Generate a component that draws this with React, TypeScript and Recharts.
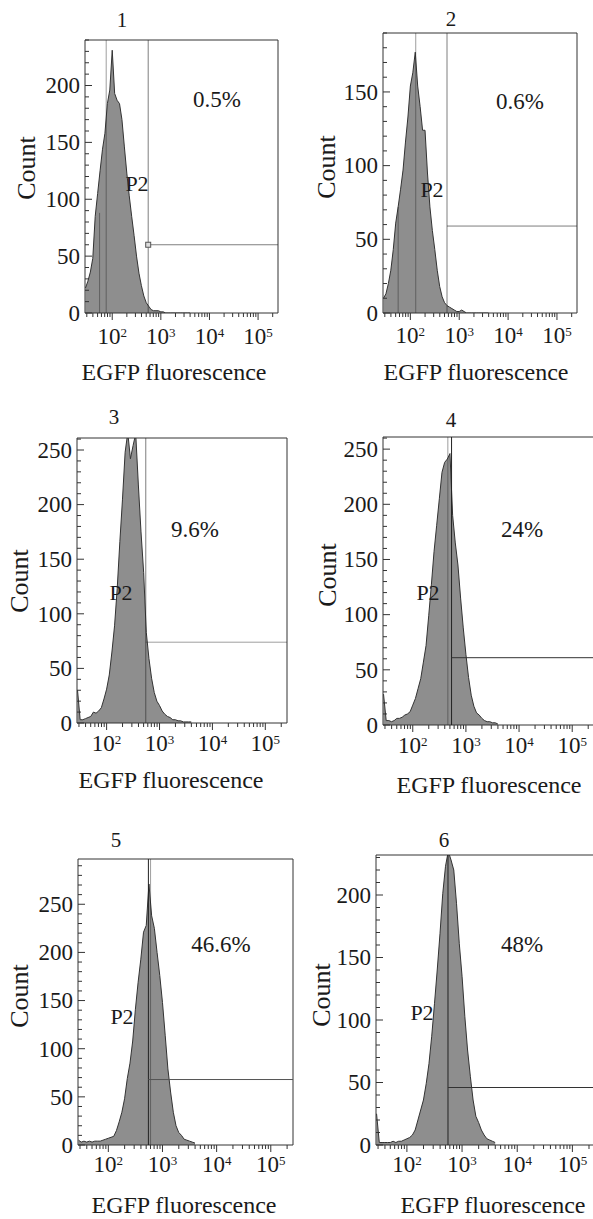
import { AreaChart, Area, XAxis, YAxis, ReferenceLine, ReferenceArea, ReferenceDot } from 'recharts'

// log10 of EGFP fluorescence for each histogram bin
const bins = [1.45, 1.5, 1.55, 1.6, 1.65, 1.7, 1.75, 1.8, 1.85, 1.9, 1.95, 2.0, 2.05, 2.1, 2.15, 2.2, 2.25, 2.3, 2.35, 2.4, 2.45, 2.5, 2.55, 2.6, 2.65, 2.7, 2.75, 2.8, 2.85, 2.9, 2.95, 3.0, 3.05, 3.1, 3.15, 3.2, 3.25, 3.3, 3.35, 3.4, 3.45, 3.5, 3.55, 3.6]

// cell counts per bin, one array per sample
const counts1 = [22, 28, 36, 48, 85, 105, 125, 144, 158, 184, 196, 231, 193, 187, 184, 170, 146, 123, 103, 85, 68, 50, 35, 24, 15, 9, 6, 3, 2, 2, 2, 1, 1, 0, 0, 0, 0, 0, 0, 0, 0, 0, 0, 0]
const counts2 = [10, 13, 20, 29, 43, 61, 72, 84, 97, 116, 133, 154, 163, 177, 154, 140, 124, 124, 95, 72, 56, 43, 29, 18, 11, 7, 5, 4, 3, 2, 1, 1, 2, 1, 0, 0, 0, 0, 0, 0, 0, 0, 0, 0]
const counts3 = [30, 3, 3, 4, 5, 6, 10, 9, 11, 14, 22, 31, 44, 65, 89, 123, 166, 205, 248, 266, 242, 254, 265, 218, 175, 138, 83, 59, 41, 28, 20, 16, 11, 8, 6, 5, 3, 3, 2, 2, 1, 1, 1, 1]
const counts4 = [28, 4, 4, 3, 4, 6, 6, 7, 9, 10, 12, 18, 24, 33, 42, 57, 72, 99, 127, 157, 181, 205, 229, 238, 241, 246, 190, 165, 145, 115, 88, 64, 43, 27, 17, 11, 9, 6, 4, 3, 3, 2, 2, 1]
const counts5 = [5, 3, 4, 3, 4, 3, 4, 4, 4, 5, 6, 7, 8, 9, 15, 24, 34, 48, 69, 85, 108, 141, 169, 193, 221, 228, 271, 238, 225, 200, 176, 148, 114, 79, 55, 34, 20, 13, 10, 6, 5, 4, 3, 2]
const counts6 = [25, 2, 2, 2, 2, 2, 3, 2, 3, 3, 4, 5, 6, 8, 12, 20, 28, 36, 49, 65, 87, 113, 140, 169, 201, 223, 235, 228, 220, 193, 161, 135, 103, 76, 55, 36, 23, 18, 12, 8, 5, 4, 3, 2]

const samples = ['1', '2', '3', '4', '5', '6']
const positivePct = ['0.5%', '0.6%', '9.6%', '24%', '46.6%', '48%']
const yMax = [240, 190, 261, 261, 297, 232]
const gateX = [2.74, 2.75, 2.74, 2.73, 2.74, 2.745]
const gateY = [60, 59, 74, 61, 68, 46]
const xMajor = [2, 3, 4, 5]
const xDomain = [1.44, 5.41]

// extra gate boundaries drawn by the cytometer software
const extraLines = [
  [{ x: 1.876, y0: 0, y1: 240 }, { x: 1.74, y0: 0, y1: 88 }],
  [{ x: 2.11, y0: 0, y1: 190 }, { x: 1.75, y0: 0, y1: 72 }],
  [],
  [{ x: 2.66, y0: 0, y1: 261 }],
  [{ x: 2.78, y0: 0, y1: 297 }],
  [],
]

const allCounts = [counts1, counts2, counts3, counts4, counts5, counts6]

// page layout (pixels)
const layouts = [
  { chart: [0, 0, 300, 400], box: [85, 278, 40, 313], off: 23, title: [122, 20], pct: [217, 100], p2: [137, 184], count: [27, 168], egfp: [174, 373], dark: false },
  { chart: [300, 0, 300, 400], box: [383, 577, 33, 313], off: 22, title: [451, 19], pct: [520, 102], p2: [432, 190], count: [327, 167], egfp: [476, 373], dark: false },
  { chart: [0, 400, 300, 420], box: [77, 287, 438, 723], off: 20, title: [114, 417], pct: [195, 530], p2: [121, 593], count: [20, 581], egfp: [171, 781], dark: false },
  { chart: [300, 400, 300, 420], box: [383, 594, 437, 725], off: 20, title: [451, 420], pct: [522, 530], p2: [428, 593], count: [328, 575], egfp: [489, 786], dark: true },
  { chart: [0, 820, 300, 399], box: [78, 293, 859, 1145], off: 19.5, title: [116, 840], pct: [221, 945], p2: [122, 1017], count: [20, 996], egfp: [184, 1206], dark: true },
  { chart: [300, 820, 300, 399], box: [376, 595, 855, 1145], off: 19.5, title: [444, 840], pct: [522, 945], p2: [422, 1013], count: [322, 995], egfp: [493, 1206], dark: true },
]

const FONT = '"Liberation Serif", "Times New Roman", serif'
const INK = '#1a1a1a'

const xTicks: number[] = []
for (let d = 1; d <= 5; d++) {
  for (let k = 1; k <= 9; k++) {
    const v = d + Math.log10(k)
    if (v >= xDomain[0] && v <= xDomain[1]) xTicks.push(v)
  }
}

const isMajor = (v: number) => xMajor.some(m => Math.abs(m - v) < 1e-6)

function XTick(props: any) {
  const { x, y, payload, off } = props
  const v = payload.value
  const major = isMajor(v)
  return (
    <g>
      <line x1={x} x2={x} y1={y} y2={y + (major ? 7 : 4)} stroke="#333" strokeWidth={1} />
      {major && (
        <text x={x} y={y + off} dy="0.34em" textAnchor="middle" fontFamily={FONT} fontSize={23} fill={INK}>
          <tspan>10</tspan>
          <tspan fontSize={13} dy={-7}>{Math.round(v)}</tspan>
        </text>
      )}
    </g>
  )
}

function YTick(props: any) {
  const { x, y, payload } = props
  const v = payload.value
  const major = v % 50 === 0
  return (
    <g>
      <line x1={x} x2={x + (major ? 7 : 4)} y1={y} y2={y} stroke="#333" strokeWidth={1} />
      {major && (
        <text x={x - 5} y={y} dy="0.34em" textAnchor="end" fontFamily={FONT} fontSize={23} fill={INK}>
          {v}
        </text>
      )}
    </g>
  )
}

function Txt({ at, size, rotate, children }: any) {
  return (
    <div
      style={{
        position: 'absolute',
        left: at[0],
        top: at[1],
        transform: `translate(-50%, -50%)${rotate ? ' rotate(-90deg)' : ''}`,
        fontFamily: FONT,
        fontSize: size,
        lineHeight: 0.9,
        whiteSpace: 'nowrap',
        color: INK,
      }}
    >
      {children}
    </div>
  )
}

function Panel({ i }: { i: number }) {
  const lay = layouts[i]
  const [cl, ct, cw, ch] = lay.chart
  const [L, R, T, B] = lay.box
  const data = bins.map((b, j) => ({ x: b, count: allCounts[i][j] }))
  const yTicks: number[] = []
  for (let v = 0; v <= yMax[i]; v += 10) yTicks.push(v)
  const gateColor = lay.dark ? '#222' : 'rgba(40,40,40,0.6)'
  const hColor = lay.dark ? (i === 4 ? '#555' : '#333') : i === 2 ? 'rgba(40,40,40,0.45)' : 'rgba(40,40,40,0.6)'

  return (
    <div style={{ position: 'absolute', left: cl, top: ct }}>
      <AreaChart
        width={cw}
        height={ch}
        data={data}
        margin={{ top: T - ct, right: cl + cw - R, left: L - cl - 40, bottom: ct + ch - B - 30 }}
      >
        <XAxis
          dataKey="x"
          type="number"
          domain={xDomain}
          allowDataOverflow
          ticks={xTicks}
          interval={0}
          tickSize={0}
          tickMargin={0}
          tickLine={false}
          axisLine={false}
          height={30}
          tick={(p: any) => <XTick {...p} off={lay.off} />}
        />
        <YAxis
          type="number"
          domain={[0, yMax[i]]}
          allowDataOverflow
          ticks={yTicks}
          interval={0}
          tickSize={0}
          tickMargin={0}
          tickLine={false}
          axisLine={false}
          width={40}
          tick={(p: any) => <YTick {...p} />}
        />
        <Area
          type="linear"
          dataKey="count"
          stroke="#333"
          strokeWidth={1}
          fill="#8e8e8e"
          fillOpacity={1}
          dot={false}
          activeDot={false}
          isAnimationActive={false}
        />
        {extraLines[i].map((l, k) => (
          <ReferenceLine
            key={k}
            segment={[{ x: l.x, y: l.y0 }, { x: l.x, y: l.y1 }]}
            stroke="rgba(40,40,40,0.45)"
            strokeWidth={1}
          />
        ))}
        <ReferenceLine x={gateX[i]} stroke={gateColor} strokeWidth={1} />
        <ReferenceLine
          segment={[{ x: gateX[i], y: gateY[i] }, { x: xDomain[1], y: gateY[i] }]}
          stroke={hColor}
          strokeWidth={1}
        />
        {i === 0 && (
          <ReferenceDot
            x={gateX[i]}
            y={gateY[i]}
            r={3}
            shape={(p: any) => (
              <rect x={p.cx - 2.5} y={p.cy - 2.5} width={5} height={5} fill="#ddd" stroke="#555" strokeWidth={1} />
            )}
          />
        )}
        <ReferenceArea
          x1={xDomain[0]}
          x2={xDomain[1]}
          y1={0}
          y2={yMax[i]}
          fill="none"
          fillOpacity={0}
          stroke="#333"
          strokeWidth={1}
        />
      </AreaChart>
    </div>
  )
}

export default function App() {
  return (
    <div style={{ position: 'absolute', left: 0, top: 0, width: 593, height: 1219, overflow: 'hidden', background: '#fff' }}>
      {samples.map((s, i) => (
        <Panel key={s} i={i} />
      ))}
      {samples.map((s, i) => {
        const lay = layouts[i]
        return (
          <div key={'t' + s}>
            <Txt at={lay.title} size={21}>{s}</Txt>
            <Txt at={lay.pct} size={23}>{positivePct[i]}</Txt>
            <Txt at={lay.p2} size={22}>P2</Txt>
            <Txt at={lay.count} size={26} rotate>Count</Txt>
            <Txt at={lay.egfp} size={24}>EGFP fluorescence</Txt>
          </div>
        )
      })}
    </div>
  )
}
